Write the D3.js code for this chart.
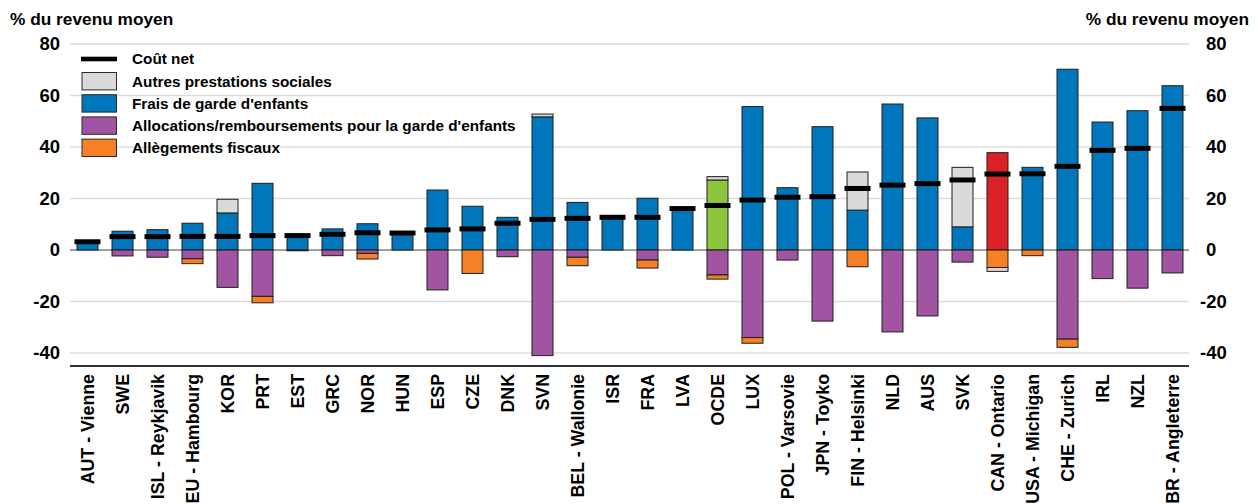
<!DOCTYPE html>
<html lang="fr">
<head>
<meta charset="utf-8">
<script src="https://cdn.jsdelivr.net/npm/d3@7"></script>
<style>
  html, body { margin: 0; padding: 0; background: #fff; }
  svg { display: block; font-family: "Liberation Sans", Arial, sans-serif; font-weight: bold; }
</style>
</head>
<body>
<svg id="chart" width="1259" height="504"></svg>
<script>
// Coût net de la garde d'enfants, en % du revenu moyen
const categories = ["AUT - Vienne", "SWE", "ISL - Reykjavik", "DEU - Hambourg", "KOR", "PRT", "EST", "GRC",
  "NOR", "HUN", "ESP", "CZE", "DNK", "SVN", "BEL - Wallonie", "ISR", "FRA", "LVA", "OCDE", "LUX",
  "POL - Varsovie", "JPN - Toyko", "FIN - Helsinki", "NLD", "AUS", "SVK", "CAN - Ontario",
  "USA - Michigan", "CHE - Zurich", "IRL", "NZL", "GBR - Angleterre"];

const childcareFees = [3.2, 7.3, 7.9, 10.4, 14.4, 25.9, 5.6, 8.2, 10.2, 6.6, 23.3, 17.0, 12.7, 51.7, 18.5, 12.7,
  20.1, 16.1, 27.2, 55.7, 24.2, 47.9, 15.5, 56.7, 51.3, 9.0, 37.8, 32.1, 70.2, 49.7, 54.1, 63.8];
const otherBenefits = [0, 0, 0, 0, 5.3, 0, 0, 0, 0, 0, 0, 0, 0, 1.1, 0, 0,
  0, 0, 1.3, 0, 0, 0, 14.8, 0, 0, 23.1, -1.5, 0, 0, 0, 0, 0];
const childcareAllowances = [0, -2.3, -2.8, -3.4, -14.5, -18.0, -0.3, -2.2, -1.3, 0, -15.5, 0, -2.6, -41.0, -2.8, 0,
  -3.9, 0, -9.7, -34.0, -3.9, -27.6, 0, -31.8, -25.6, -4.7, 0, 0, -34.6, -11.1, -14.8, -8.9];
const taxRelief = [0, 0, 0, -1.9, 0, -2.5, 0, 0, -2.2, 0, 0, -9.1, 0, 0, -3.3, 0,
  -3.1, 0, -1.6, -2.2, 0, 0, -6.5, 0, 0, 0, -6.8, -2.2, -3.2, 0, 0, 0];
const netCost = [3.2, 5.2, 5.2, 5.3, 5.3, 5.6, 5.6, 6.1, 6.7, 6.6, 7.8, 8.2, 10.4, 11.9, 12.3, 12.7,
  12.7, 16.1, 17.3, 19.4, 20.5, 20.7, 23.9, 25.2, 25.8, 27.2, 29.5, 29.6, 32.5, 38.7, 39.5, 55.0];

const yTicks = [-40, -20, 0, 20, 40, 60, 80];
const axisTitle = "% du revenu moyen";

const legendItems = [
  { label: "Coût net", type: "line" },
  { label: "Autres prestations sociales", key: "other" },
  { label: "Frais de garde d'enfants", key: "fees" },
  { label: "Allocations/remboursements pour la garde d'enfants", key: "allow" },
  { label: "Allègements fiscaux", key: "tax" }
];

const colors = {
  fees: "#0077bd",
  other: "#dadada",
  allow: "#a154a1",
  tax: "#f58025",
  oecd: "#8cc63f",
  focus: "#da2128"
};

const svg = d3.select("#chart");
const plotLeft = 70, plotRight = 1190;

const x = d3.scaleBand().domain(categories).range([plotLeft, plotRight]).paddingInner(0.4).paddingOuter(0.2);
const y = d3.scaleLinear().domain([-45, 80]).range([365.9, 44]);

// gridlines
svg.append("g").selectAll("line").data(yTicks.filter(d => d !== 0)).join("line")
  .attr("x1", plotLeft).attr("x2", plotRight - 1)
  .attr("y1", d => y(d)).attr("y2", d => y(d))
  .attr("stroke", "#dcdcdc").attr("stroke-width", 1.3);

// zero line
svg.append("line").attr("x1", plotLeft).attr("x2", plotRight - 1)
  .attr("y1", y(0)).attr("y2", y(0)).attr("stroke", "#444").attr("stroke-width", 1);

// bottom axis line
svg.append("line").attr("x1", plotLeft).attr("x2", plotRight - 1)
  .attr("y1", y(-45)).attr("y2", y(-45)).attr("stroke", "#333").attr("stroke-width", 2);

// build stacked segments
const segments = [];
categories.forEach((c, i) => {
  let pos = 0, neg = 0;
  const feeColor = c === "OCDE" ? colors.oecd : (c === "CAN - Ontario" ? colors.focus : colors.fees);
  const parts = [
    { v: childcareFees[i], color: feeColor },
    { v: otherBenefits[i] > 0 ? otherBenefits[i] : 0, color: colors.other },
    { v: childcareAllowances[i], color: colors.allow },
    { v: taxRelief[i], color: colors.tax },
    { v: otherBenefits[i] < 0 ? otherBenefits[i] : 0, color: colors.other }
  ];
  parts.forEach(p => {
    if (!p.v) return;
    let y0, y1;
    if (p.v > 0) { y0 = pos; y1 = pos + p.v; pos = y1; }
    else { y0 = neg; y1 = neg + p.v; neg = y1; }
    segments.push({ cat: c, y0, y1, color: p.color });
  });
});

svg.append("g").selectAll("rect").data(segments).join("rect")
  .attr("x", d => x(d.cat))
  .attr("width", x.bandwidth())
  .attr("y", d => y(Math.max(d.y0, d.y1)))
  .attr("height", d => Math.abs(y(d.y0) - y(d.y1)))
  .attr("fill", d => d.color)
  .attr("stroke", "#1e1e1e").attr("stroke-width", 1);

// net cost markers
const markW = x.bandwidth() + 5;
svg.append("g").selectAll("rect").data(categories).join("rect")
  .attr("x", d => x(d) + x.bandwidth() / 2 - markW / 2)
  .attr("width", markW)
  .attr("y", (d, i) => y(netCost[i]) - 2.5)
  .attr("height", 5)
  .attr("fill", "#000");

// y tick labels, left and right
const tickFont = "18.5px";
svg.append("g").selectAll("text").data(yTicks).join("text")
  .attr("x", 60).attr("y", d => y(d))
  .attr("text-anchor", "end").attr("dy", "0.35em")
  .style("font-size", tickFont)
  .text(d => d);
svg.append("g").selectAll("text").data(yTicks).join("text")
  .attr("x", d => d < 0 ? 1200 : 1206).attr("y", d => y(d))
  .attr("text-anchor", "start").attr("dy", "0.35em")
  .style("font-size", tickFont)
  .text(d => d);

// axis titles
svg.append("text").attr("x", 10).attr("y", 24.5).style("font-size", "17.3px").text(axisTitle);
svg.append("text").attr("x", 1249).attr("y", 24.5).attr("text-anchor", "end").style("font-size", "17.3px").text(axisTitle);

// category labels
svg.append("g").selectAll("text").data(categories).join("text")
  .attr("transform", d => `translate(${x(d) + x.bandwidth() / 2},374) rotate(-90)`)
  .attr("text-anchor", "end").attr("dy", "0.36em")
  .style("font-size", "17.8px")
  .text(d => d);

// legend
const lg = svg.append("g");
const rowY = i => 59 + i * 22.2;
legendItems.forEach((item, i) => {
  const cy = rowY(i);
  if (item.type === "line") {
    lg.append("rect").attr("x", 81).attr("y", cy - 2.3).attr("width", 36).attr("height", 4.6).attr("fill", "#000");
  } else {
    lg.append("rect").attr("x", 82).attr("y", cy - 8.7).attr("width", 34.5).attr("height", 17.4)
      .attr("fill", colors[item.key]).attr("stroke", "#2a2a2a").attr("stroke-width", 1);
  }
  lg.append("text").attr("x", 132).attr("y", cy).attr("dy", "0.35em")
    .style("font-size", "15.3px").text(item.label);
});
</script>
</body>
</html>
